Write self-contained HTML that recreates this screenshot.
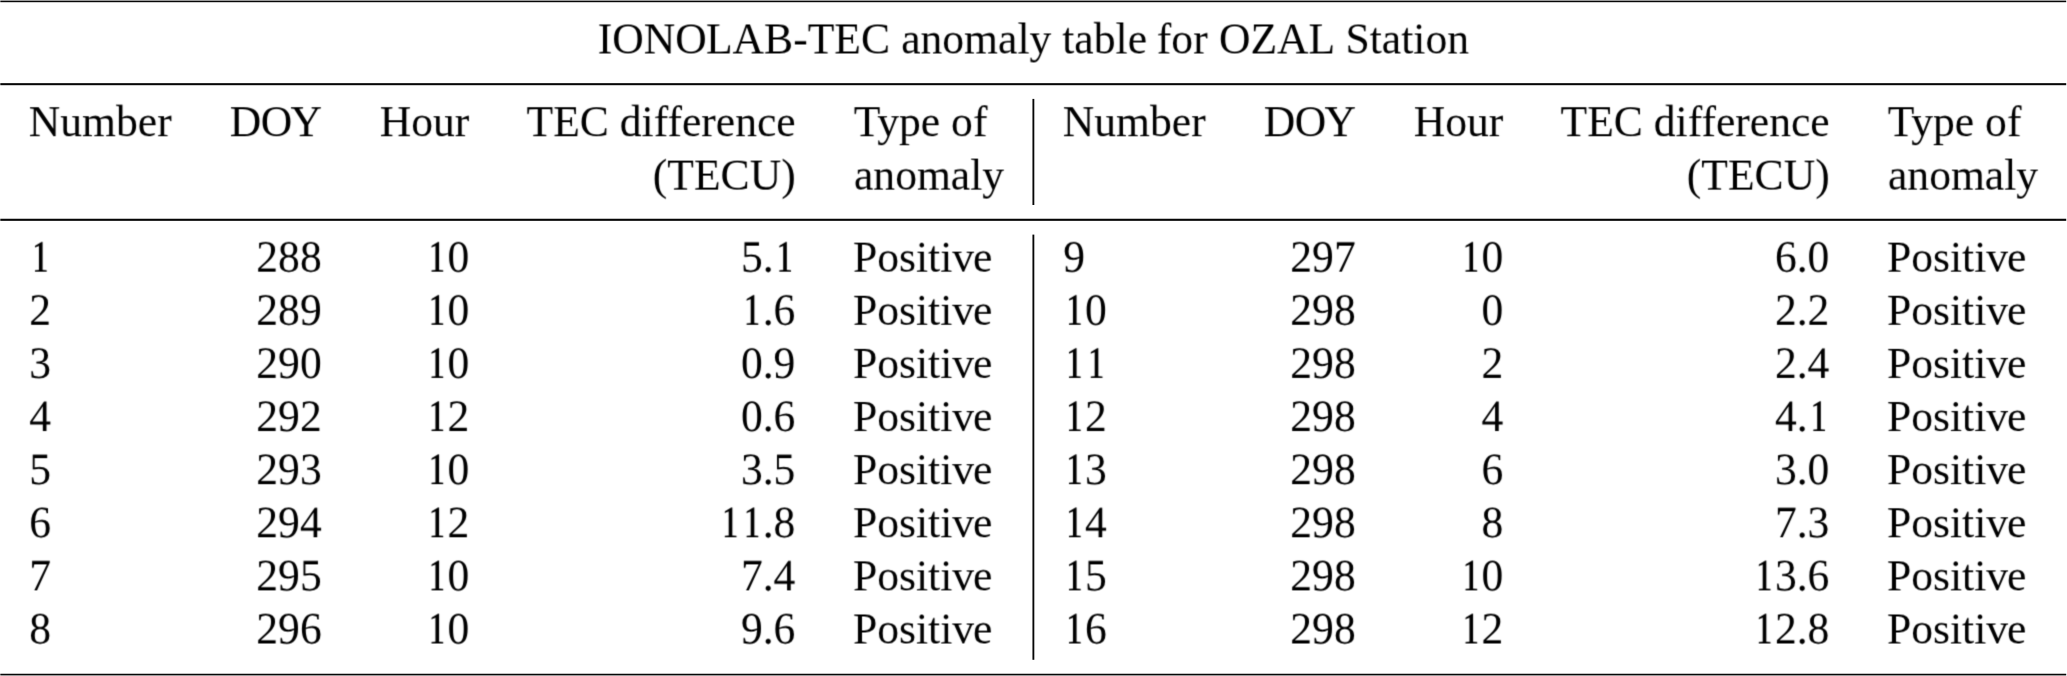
<!DOCTYPE html>
<html><head><meta charset="utf-8"><title>IONOLAB-TEC anomaly table for OZAL Station</title>
<style>
html,body{margin:0;padding:0;background:#fff;}
body{width:2067px;height:676px;position:relative;overflow:hidden;font-family:"Liberation Serif",serif;color:#000;}
svg{position:absolute;left:0;top:0;}
.g{position:absolute;left:0;width:2067px;height:64px;}
.t{position:absolute;top:5px;height:50px;line-height:50px;font-size:43.6px;white-space:pre;}
.t i{font-style:normal;}
.o{display:inline-block;clip-path:inset(0 4.4px 0 5.7px);}
.c{transform:translateX(-50%);}
.d{top:6px;font-kerning:none;text-rendering:geometricPrecision;transform:scaleY(1.03);transform-origin:0 40px;}
</style></head><body>
<svg width="2067" height="676" viewBox="0 0 2067 676" fill="#060606">
<rect x="0.3" y="0.6" width="2065.9" height="1.6"/>
<rect x="0.3" y="83.15" width="2065.9" height="2.05"/>
<rect x="0.3" y="218.75" width="2065.9" height="2.1"/>
<rect x="0.3" y="673.75" width="2065.9" height="1.65"/>
<rect x="1032.45" y="98.9" width="1.85" height="106.1"/>
<rect x="1032.45" y="234.6" width="1.85" height="425.2"/>
</svg>
<svg width="0" height="0"><defs>
<filter id="f0" x="0" y="0" width="100%" height="100%" color-interpolation-filters="sRGB"><feConvolveMatrix order="3" kernelMatrix="0.0040 0.0175 0.0040 0.0792 0.3437 0.0792 0.0745 0.3232 0.0745" edgeMode="duplicate" preserveAlpha="false"/></filter>
<filter id="f1" x="0" y="0" width="100%" height="100%" color-interpolation-filters="sRGB"><feConvolveMatrix order="3" kernelMatrix="0.0122 0.0528 0.0122 0.1015 0.4406 0.1015 0.0441 0.1912 0.0441" edgeMode="duplicate" preserveAlpha="false"/></filter>
<filter id="f2" x="0" y="0" width="100%" height="100%" color-interpolation-filters="sRGB"><feConvolveMatrix order="3" kernelMatrix="0.0618 0.2683 0.0618 0.0895 0.3882 0.0895 0.0065 0.0280 0.0065" edgeMode="duplicate" preserveAlpha="false"/></filter>
<filter id="f3" x="0" y="0" width="100%" height="100%" color-interpolation-filters="sRGB"><feConvolveMatrix order="3" kernelMatrix="0.0557 0.2416 0.0557 0.0940 0.4080 0.0940 0.0080 0.0349 0.0080" edgeMode="duplicate" preserveAlpha="false"/></filter>
<filter id="f4" x="0" y="0" width="100%" height="100%" color-interpolation-filters="sRGB"><feConvolveMatrix order="3" kernelMatrix="0.0430 0.1864 0.0430 0.1021 0.4432 0.1021 0.0126 0.0549 0.0126" edgeMode="duplicate" preserveAlpha="false"/></filter>
<filter id="f5" x="0" y="0" width="100%" height="100%" color-interpolation-filters="sRGB"><feConvolveMatrix order="3" kernelMatrix="0.0318 0.1380 0.0318 0.1069 0.4640 0.1069 0.0190 0.0825 0.0190" edgeMode="duplicate" preserveAlpha="false"/></filter>
<filter id="f6" x="0" y="0" width="100%" height="100%" color-interpolation-filters="sRGB"><feConvolveMatrix order="3" kernelMatrix="0.0226 0.0979 0.0226 0.1078 0.4679 0.1078 0.0274 0.1187 0.0274" edgeMode="duplicate" preserveAlpha="false"/></filter>
<filter id="f7" x="0" y="0" width="100%" height="100%" color-interpolation-filters="sRGB"><feConvolveMatrix order="3" kernelMatrix="0.0153 0.0664 0.0153 0.1048 0.4546 0.1048 0.0377 0.1635 0.0377" edgeMode="duplicate" preserveAlpha="false"/></filter>
<filter id="f8" x="0" y="0" width="100%" height="100%" color-interpolation-filters="sRGB"><feConvolveMatrix order="3" kernelMatrix="0.0099 0.0431 0.0099 0.0981 0.4256 0.0981 0.0497 0.2158 0.0497" edgeMode="duplicate" preserveAlpha="false"/></filter>
<filter id="f9" x="0" y="0" width="100%" height="100%" color-interpolation-filters="sRGB"><feConvolveMatrix order="3" kernelMatrix="0.0062 0.0268 0.0062 0.0885 0.3840 0.0885 0.0631 0.2737 0.0631" edgeMode="duplicate" preserveAlpha="false"/></filter>
<filter id="f10" x="0" y="0" width="100%" height="100%" color-interpolation-filters="sRGB"><feConvolveMatrix order="3" kernelMatrix="0.0037 0.0159 0.0037 0.0770 0.3343 0.0770 0.0770 0.3343 0.0770" edgeMode="duplicate" preserveAlpha="false"/></filter>
</defs></svg>
<div class="g" style="top:8px;filter:url(#f0)">
<span class="t c" style="left:1033.20px"><i style="position:relative;left:0.2px">IONO</i><i style="position:relative;left:-0.5px">LAB-TEC</i> <i style="position:relative;left:-0.25px">anomaly</i> <i style="position:relative;left:-0.2px">table</i> <i style="position:relative;left:-1.25px">for</i> <i style="position:relative;left:-0.9px">OZAL</i> <i style="position:relative;left:0.15px">Station</i></span>
</div>
<div class="g" style="top:91px;filter:url(#f1)">
<span class="t" style="left:28.80px">Number</span>
<span class="t" style="right:1745.10px"><i style="letter-spacing:-0.5px">D</i><i style="letter-spacing:-1.9px">O</i>Y</span>
<span class="t" style="right:1597.70px">Hour</span>
<span class="t" style="right:1271.30px">TEC difference</span>
<span class="t" style="left:853.70px">Type of</span>
<span class="t" style="left:1062.80px">Number</span>
<span class="t" style="right:711.10px"><i style="letter-spacing:-0.5px">D</i><i style="letter-spacing:-1.9px">O</i>Y</span>
<span class="t" style="right:563.70px">Hour</span>
<span class="t" style="right:237.30px">TEC difference</span>
<span class="t" style="left:1887.70px">Type of</span>
</div>
<div class="g" style="top:145px;filter:url(#f2)">
<span class="t" style="right:1271.30px">(TECU)</span>
<span class="t" style="left:854.00px">anomaly</span>
<span class="t" style="right:237.30px">(TECU)</span>
<span class="t" style="left:1888.00px">anomaly</span>
</div>
<div class="g" style="top:227px;filter:url(#f3)">
<span class="t d" style="left:29.30px"><i class="o">1</i></span>
<span class="t d" style="right:1745.30px">288</span>
<span class="t d" style="right:1597.60px"><i class="o">1</i>0</span>
<span class="t d" style="right:1271.60px">5.<i class="o">1</i></span>
<span class="t" style="left:853.00px">Positi<i style="letter-spacing:-1.2px">v</i>e</span>
<span class="t d" style="left:1063.30px">9</span>
<span class="t d" style="right:711.30px">297</span>
<span class="t d" style="right:563.60px"><i class="o">1</i>0</span>
<span class="t d" style="right:237.60px">6.0</span>
<span class="t" style="left:1887.00px">Positi<i style="letter-spacing:-1.2px">v</i>e</span>
</div>
<div class="g" style="top:280px;filter:url(#f4)">
<span class="t d" style="left:29.30px">2</span>
<span class="t d" style="right:1745.30px">289</span>
<span class="t d" style="right:1597.60px"><i class="o">1</i>0</span>
<span class="t d" style="right:1271.60px"><i class="o">1</i>.6</span>
<span class="t" style="left:853.00px">Positi<i style="letter-spacing:-1.2px">v</i>e</span>
<span class="t d" style="left:1063.30px"><i class="o">1</i>0</span>
<span class="t d" style="right:711.30px">298</span>
<span class="t d" style="right:563.60px">0</span>
<span class="t d" style="right:237.60px">2.2</span>
<span class="t" style="left:1887.00px">Positi<i style="letter-spacing:-1.2px">v</i>e</span>
</div>
<div class="g" style="top:333px;filter:url(#f5)">
<span class="t d" style="left:29.30px">3</span>
<span class="t d" style="right:1745.30px">290</span>
<span class="t d" style="right:1597.60px"><i class="o">1</i>0</span>
<span class="t d" style="right:1271.60px">0.9</span>
<span class="t" style="left:853.00px">Positi<i style="letter-spacing:-1.2px">v</i>e</span>
<span class="t d" style="left:1063.30px"><i class="o">1</i><i class="o">1</i></span>
<span class="t d" style="right:711.30px">298</span>
<span class="t d" style="right:563.60px">2</span>
<span class="t d" style="right:237.60px">2.4</span>
<span class="t" style="left:1887.00px">Positi<i style="letter-spacing:-1.2px">v</i>e</span>
</div>
<div class="g" style="top:386px;filter:url(#f6)">
<span class="t d" style="left:29.30px">4</span>
<span class="t d" style="right:1745.30px">292</span>
<span class="t d" style="right:1597.60px"><i class="o">1</i>2</span>
<span class="t d" style="right:1271.60px">0.6</span>
<span class="t" style="left:853.00px">Positi<i style="letter-spacing:-1.2px">v</i>e</span>
<span class="t d" style="left:1063.30px"><i class="o">1</i>2</span>
<span class="t d" style="right:711.30px">298</span>
<span class="t d" style="right:563.60px">4</span>
<span class="t d" style="right:237.60px">4.<i class="o">1</i></span>
<span class="t" style="left:1887.00px">Positi<i style="letter-spacing:-1.2px">v</i>e</span>
</div>
<div class="g" style="top:439px;filter:url(#f7)">
<span class="t d" style="left:29.30px">5</span>
<span class="t d" style="right:1745.30px">293</span>
<span class="t d" style="right:1597.60px"><i class="o">1</i>0</span>
<span class="t d" style="right:1271.60px">3.5</span>
<span class="t" style="left:853.00px">Positi<i style="letter-spacing:-1.2px">v</i>e</span>
<span class="t d" style="left:1063.30px"><i class="o">1</i>3</span>
<span class="t d" style="right:711.30px">298</span>
<span class="t d" style="right:563.60px">6</span>
<span class="t d" style="right:237.60px">3.0</span>
<span class="t" style="left:1887.00px">Positi<i style="letter-spacing:-1.2px">v</i>e</span>
</div>
<div class="g" style="top:492px;filter:url(#f8)">
<span class="t d" style="left:29.30px">6</span>
<span class="t d" style="right:1745.30px">294</span>
<span class="t d" style="right:1597.60px"><i class="o">1</i>2</span>
<span class="t d" style="right:1271.60px"><i class="o">1</i><i class="o">1</i>.8</span>
<span class="t" style="left:853.00px">Positi<i style="letter-spacing:-1.2px">v</i>e</span>
<span class="t d" style="left:1063.30px"><i class="o">1</i>4</span>
<span class="t d" style="right:711.30px">298</span>
<span class="t d" style="right:563.60px">8</span>
<span class="t d" style="right:237.60px">7.3</span>
<span class="t" style="left:1887.00px">Positi<i style="letter-spacing:-1.2px">v</i>e</span>
</div>
<div class="g" style="top:545px;filter:url(#f9)">
<span class="t d" style="left:29.30px">7</span>
<span class="t d" style="right:1745.30px">295</span>
<span class="t d" style="right:1597.60px"><i class="o">1</i>0</span>
<span class="t d" style="right:1271.60px">7.4</span>
<span class="t" style="left:853.00px">Positi<i style="letter-spacing:-1.2px">v</i>e</span>
<span class="t d" style="left:1063.30px"><i class="o">1</i>5</span>
<span class="t d" style="right:711.30px">298</span>
<span class="t d" style="right:563.60px"><i class="o">1</i>0</span>
<span class="t d" style="right:237.60px"><i class="o">1</i>3.6</span>
<span class="t" style="left:1887.00px">Positi<i style="letter-spacing:-1.2px">v</i>e</span>
</div>
<div class="g" style="top:598px;filter:url(#f10)">
<span class="t d" style="left:29.30px">8</span>
<span class="t d" style="right:1745.30px">296</span>
<span class="t d" style="right:1597.60px"><i class="o">1</i>0</span>
<span class="t d" style="right:1271.60px">9.6</span>
<span class="t" style="left:853.00px">Positi<i style="letter-spacing:-1.2px">v</i>e</span>
<span class="t d" style="left:1063.30px"><i class="o">1</i>6</span>
<span class="t d" style="right:711.30px">298</span>
<span class="t d" style="right:563.60px"><i class="o">1</i>2</span>
<span class="t d" style="right:237.60px"><i class="o">1</i>2.8</span>
<span class="t" style="left:1887.00px">Positi<i style="letter-spacing:-1.2px">v</i>e</span>
</div>
</body></html>
